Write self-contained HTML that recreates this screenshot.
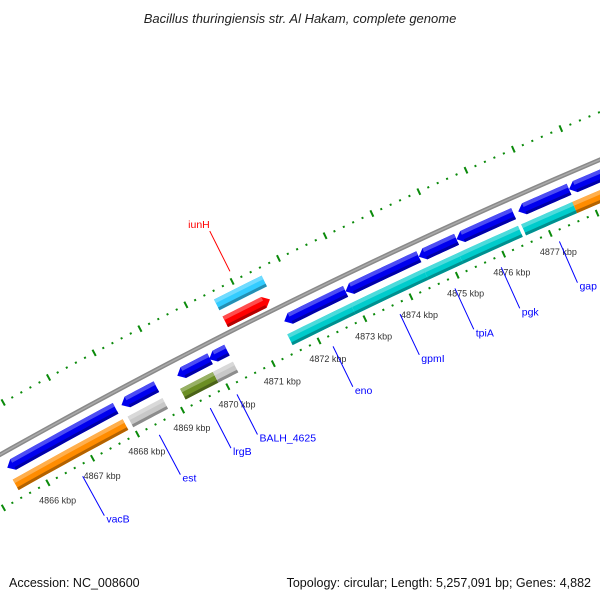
<!DOCTYPE html>
<html><head><meta charset="utf-8"><style>
html,body{margin:0;padding:0;background:#fff;}
svg{display:block;font-family:"Liberation Sans","DejaVu Sans",sans-serif;}
</style></head><body>
<svg id="map" width="600" height="600" viewBox="0 0 600 600" xmlns="http://www.w3.org/2000/svg">
<rect width="600" height="600" fill="#fff"/>
<text x="300" y="23" text-anchor="middle" font-size="13" font-style="italic" fill="#222">Bacillus thuringiensis str. Al Hakam, complete genome</text>
<g id="rulers"></g>
<g id="backbone"></g>
<g id="features"></g>
<g id="labels"></g>
<text x="9" y="587" font-size="12.5" fill="#111">Accession: NC_008600</text>
<text x="591" y="587" text-anchor="end" font-size="12.5" fill="#111">Topology: circular; Length: 5,257,091 bp; Genes: 4,882</text>
</svg>
<script>
// data (kbp)
const featStart=[4865.45,4865.43,4867.99,4867.99,4869.22,4869.92,4869.15,4869.87,4870.53,4870.53,4871.56,4871.5,4872.89,4872.87,4874.45,4874.47,4875.28,4875.2,4876.6,4876.55,4877.68,4877.64];
const featEnd=[4867.86,4867.88,4868.76,4868.76,4869.94,4870.31,4869.87,4870.31,4871.56,4871.5,4872.89,4872.87,4874.47,4874.45,4875.2,4875.28,4876.5,4876.48,4877.68,4877.64,4880.5,4880.5];
const featSlot=[1,2,1,2,1,1,2,2,4,3,1,2,1,2,2,1,1,2,1,2,1,2];
const featDir=[-1,0,-1,0,-1,-1,0,0,0,1,-1,0,-1,0,0,-1,-1,0,-1,0,-1,0];
const featColor=["#0000ee","#ff8c00","#0000ee","#c8c8c8","#0000ee","#0000ee","#6b8e23","#c8c8c8","#33ccff","#ff0000","#0000ee","#00cccc","#0000ee","#00cccc","#00cccc","#0000ee","#0000ee","#00cccc","#0000ee","#00cccc","#0000ee","#ff8c00"];
const tickKbp=[4866,4867,4868,4869,4870,4871,4872,4873,4874,4875,4876,4877];
const tickLabels=["4866 kbp","4867 kbp","4868 kbp","4869 kbp","4870 kbp","4871 kbp","4872 kbp","4873 kbp","4874 kbp","4875 kbp","4876 kbp","4877 kbp"];
const geneNames=["vacB","est","lrgB","BALH_4625","eno","gpmI","tpiA","pgk","gap","iunH"];
const genePos=[4866.66,4868.37,4869.5,4870.09,4872.2,4873.66,4874.85,4875.85,4877.1,4871.05];
const geneSide=[-1,-1,-1,-1,-1,-1,-1,-1,-1,1];

const NS="http://www.w3.org/2000/svg";
const CX=2949,CY=5696,A0=Math.atan2(-5213,-2901),K=0.00855;
const slotR={1:5999,2:5980,3:6025,4:6044};
function ang(k){return A0+(k-4866)*K;}
function pt(r,k){const a=ang(k);return [CX+r*Math.cos(a),CY+r*Math.sin(a)];}
function mk(tag,attrs,parent){const e=document.createElementNS(NS,tag);for(const k in attrs)e.setAttribute(k,attrs[k]);parent.appendChild(e);return e;}
function arcPts(r,k1,k2,n){const p=[];for(let i=0;i<=n;i++){p.push(pt(r,k1+(k2-k1)*i/n));}return p;}
function shade(hex,f){const n=parseInt(hex.slice(1),16);let r=n>>16,g=(n>>8)&255,b=n&255;
 if(f>0){r+= (255-r)*f;g+=(255-g)*f;b+=(255-b)*f;}else{r*=1+f;g*=1+f;b*=1+f;}
 return "rgb("+Math.round(r)+","+Math.round(g)+","+Math.round(b)+")";}

// rulers
const rulers=document.getElementById('rulers');
[5966,6058].forEach((R,ri)=>{
 for(let t=48640;t<=48810;t+=2){const k=t/10;const major=(t%10===0);
  const len=major?3.5:1;
  const a=pt(R-len,k),b=pt(R+len,k);
  const ln=mk('line',{x1:a[0],y1:a[1],x2:b[0],y2:b[1],stroke:'#0a8a0a','stroke-width':2},rulers);
  
  
 }
});
tickKbp.forEach((k,i)=>{const p=pt(5946,k);
 const t=mk('text',{x:p[0],y:p[1]+3,'text-anchor':'middle','font-size':9,fill:'#333'},rulers);
 t.textContent=tickLabels[i];
 
 
});

// backbone
const bb=document.getElementById('backbone');
const bp=arcPts(6014,4863.5,4881,40).map(p=>p.join(',')).join(' ');
const bl=mk('polyline',{points:bp,fill:'none',stroke:'#8a8a8a','stroke-width':4.5},bb);


const bl2=mk('polyline',{points:bp,fill:'none',stroke:'#aaa','stroke-width':1.5},bb);



// features
const fg=document.getElementById('features');
const H=0.13;
featStart.forEach((s,i)=>{
 const e=featEnd[i],R=slotR[featSlot[i]],d=featDir[i],c=featColor[i];
 const ro=R+6,ri=R-6;let pts=[],bs=s,be=e;
 if(d<0){bs=s+H;pts=[pt(R,s)].concat(arcPts(ro,bs,e,8),arcPts(ri,e,bs,8));}
 else if(d>0){be=e-H;pts=arcPts(ro,s,be,8).concat([pt(R,e)],arcPts(ri,be,s,8));}
 else{pts=arcPts(ro,s,e,8).concat(arcPts(ri,e,s,8));}
 const g=mk('g',{},fg);
 
 
 mk('polygon',{points:pts.map(p=>p.join(',')).join(' '),fill:c},g);
 const top=arcPts(ro,bs,be,8).concat(arcPts(ro-4,be,bs,8));
 mk('polygon',{points:top.map(p=>p.join(',')).join(' '),fill:shade(c,0.3)},g);
 const bot=arcPts(ri+3,bs,be,8).concat(arcPts(ri,be,bs,8));
 mk('polygon',{points:bot.map(p=>p.join(',')).join(' '),fill:shade(c,-0.3)},g);
});

// gene labels
const lg=document.getElementById('labels');
geneNames.forEach((n,i)=>{
 const k=genePos[i],side=geneSide[i];
 const col=side>0?'#ff0000':'#0000ff';
 let a,b;
 if(side<0){a=pt(5955,k);b=pt(5910,k);}else{a=pt(6068,k);b=pt(6113,k);}
 const ln=mk('line',{x1:a[0],y1:a[1],x2:b[0],y2:b[1],stroke:col,'stroke-width':1},lg);
 
 
 const t=mk('text',side<0?{x:b[0]+2,y:b[1]+7,'font-size':10.5,fill:col}:{x:b[0],y:b[1]-3,'text-anchor':'end','font-size':10.5,fill:col},lg);
 t.textContent=n;
 
 
});
</script>
</body></html>
